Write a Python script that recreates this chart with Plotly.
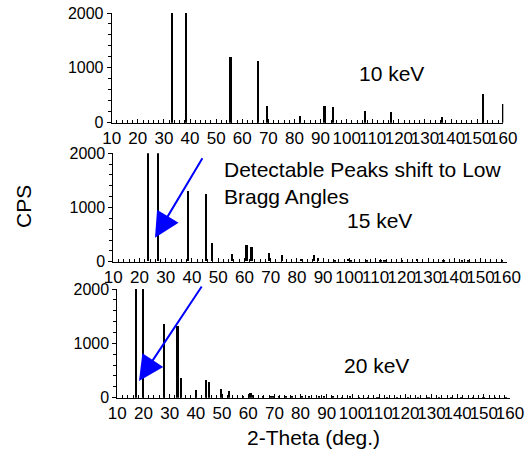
import plotly.graph_objects as go

W, H = 530, 450
FONT = "Liberation Sans, Arial, sans-serif"

# ---- data (2-theta positions in degrees, intensities in CPS) ----
theta_10 = [33.0, 38.2, 55.4, 66.0, 69.3, 82.1, 91.4, 94.5, 106.9, 117.0, 136.3, 152.2, 159.7]
cps_10 = [2000, 2000, 1195, 1128, 305, 122, 305, 280, 213, 189, 105, 518, 348]

theta_15 = [23.5, 27.0, 38.6, 45.5, 47.7, 55.5, 60.9, 62.8, 69.5, 74.5, 81.8, 86.5, 88.2,
            94.6, 99.6, 100.8, 106.8, 112.0, 113.5, 120.3, 125.8, 136.0, 143.0, 145.5, 158.3]
cps_15 = [2000, 2000, 1305, 1243, 338, 135, 301, 258, 148, 123, 40, 110, 60,
          30, 40, 30, 20, 30, 25, 35, 40, 15, 25, 25, 30]

theta_20 = [17.2, 19.95, 28.0, 33.1, 34.6, 40.1, 43.9, 45.2, 49.7, 52.8, 58.0, 61.0, 61.8,
            65.6, 68.4, 69.4, 72.0, 74.5, 77.0, 80.5, 83.5, 87.0, 89.0, 92.5, 96.0, 99.0,
            102.5, 106.0, 109.5, 113.0, 117.0, 121.0, 125.0, 129.0, 133.0, 137.5, 141.5,
            146.0, 150.0, 154.5, 158.5]
cps_20 = [2000, 2000, 1350, 1320, 356, 141, 331, 282, 166, 123, 40, 95, 55,
          40, 30, 30, 20, 25, 15, 20, 15, 20, 15, 15, 12, 15,
          12, 10, 12, 10, 12, 10, 12, 10, 10, 12, 10,
          10, 12, 10, 10]

x_ticks = list(range(10, 161, 10))
y_ticks = [0, 1000, 2000]
panel_labels = ["10 keV", "15 keV", "20 keV"]

fig = go.Figure()
series = [(theta_10, cps_10), (theta_15, cps_15), (theta_20, cps_20)]
for i, (xs, ys) in enumerate(series):
    sfx = "" if i == 0 else str(i + 1)
    fig.add_trace(go.Bar(x=xs, y=ys, width=0.8, marker=dict(color="black", line=dict(width=0)),
                         xaxis="x" + sfx, yaxis="y" + sfx, showlegend=False))

# panel geometry in pixels: (left, right, top, bottom)
panels = [(111.7, 503.3, 13.0, 122.7), (113.3, 506.7, 153.3, 261.7), (117.3, 510.0, 289.0, 397.7)]
layout = {}
for i, (l, r, t, b) in enumerate(panels):
    sfx = "" if i == 0 else str(i + 1)
    layout["xaxis" + sfx] = dict(
        domain=[l / W, r / W], anchor="y" + sfx, range=[10, 160], automargin=False,
        tickmode="array", tickvals=x_ticks, ticktext=[str(v) for v in x_ticks], tickangle=0,
        showline=True, linecolor="black", linewidth=1, showgrid=False, zeroline=False,
        ticks="inside", ticklen=4, tickcolor="black", tickwidth=1,
        minor=dict(tick0=10, dtick=2, ticks="inside", ticklen=3, tickcolor="black", showgrid=False),
        tickfont=dict(family=FONT, size=17, color="black"), fixedrange=True)
    layout["yaxis" + sfx] = dict(
        domain=[1 - b / H, 1 - t / H], anchor="x" + sfx, range=[0, 2000], automargin=False,
        tickmode="array", tickvals=y_ticks, ticktext=[str(v) for v in y_ticks], tickangle=0,
        showline=True, linecolor="black", linewidth=1, showgrid=False, zeroline=False,
        ticks="outside", ticklen=4, tickcolor="black", tickwidth=1,
        minor=dict(tick0=0, dtick=200, ticks="outside", ticklen=3, tickcolor="black", showgrid=False),
        tickfont=dict(family=FONT, size=16, color="black"), fixedrange=True)

label_pos = [(391, 73), (379, 221), (376, 365)]
annotations = []
for txt, (px, py) in zip(panel_labels, label_pos):
    annotations.append(dict(text=txt, x=px / W, y=1 - py / H, xref="paper", yref="paper",
                            xanchor="center", yanchor="middle", showarrow=False,
                            font=dict(family=FONT, size=21, color="black")))

annotations.append(dict(text="Detectable Peaks shift to Low<br>Bragg Angles", x=222 / W, y=1 - 183 / H,
                        xref="paper", yref="paper", xanchor="left", yanchor="middle", align="left",
                        showarrow=False, font=dict(family=FONT, size=21, color="black")))

# arrows: (tip, tail) in pixels
arrows = [((155, 237.7), (203.3, 156.7)), ((139, 381), (202.7, 285))]
for (tx, ty), (sx, sy) in arrows:
    annotations.append(dict(text="", x=tx / W, y=1 - ty / H, xref="paper", yref="paper",
                            ax=sx - tx, ay=sy - ty, showarrow=True, arrowhead=2, arrowsize=2.5,
                            arrowwidth=2, arrowcolor="#0000FF", standoff=0))

annotations.append(dict(text="CPS", x=24 / W, y=1 - 207 / H, xref="paper", yref="paper",
                        textangle=-90, xanchor="center", yanchor="middle", showarrow=False,
                        font=dict(family=FONT, size=21, color="black")))
annotations.append(dict(text="2-Theta (deg.)", x=313 / W, y=1 - 437 / H, xref="paper", yref="paper",
                        xanchor="center", yanchor="middle", showarrow=False,
                        font=dict(family=FONT, size=21, color="black")))

fig.update_layout(width=W, height=H, autosize=False, margin=dict(l=0, r=0, t=0, b=0, autoexpand=False),
                  paper_bgcolor="white", plot_bgcolor="white", bargap=0,
                  annotations=annotations, **layout)

fig.write_html("out.html", config={"displayModeBar": False},
               post_script="document.body.style.margin='0';document.body.style.overflow='hidden';")
